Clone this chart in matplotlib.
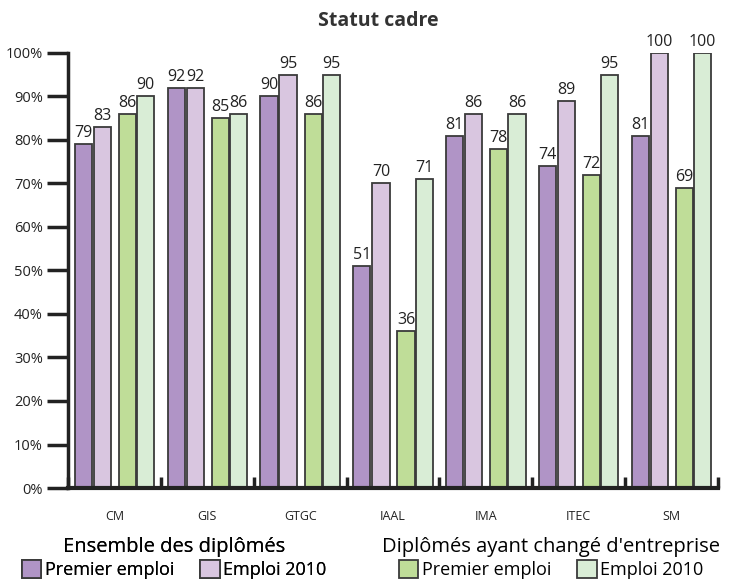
import numpy as np
import matplotlib.pyplot as plt
from matplotlib.patches import Patch

plt.rcParams['font.family'] = ['Open Sans', 'DejaVu Sans']

filieres = ['CM', 'GIS', 'GTGC', 'IAAL', 'IMA', 'ITEC', 'SM']
ensemblePremier = [79, 92, 90, 51, 81, 74, 81]
ensemble2010 = [83, 92, 95, 70, 86, 89, 100]
changePremier = [86, 85, 86, 36, 78, 72, 69]
change2010 = [90, 86, 95, 71, 86, 95, 100]

couleurs = ['#b094c6', '#d9c6e0', '#bfdd98', '#d9edd6']
bord = '#3a3a3a'

fig = plt.figure(figsize=(7.35, 5.86), dpi=100)
ax = fig.add_axes([68/735, 98/586, 650/735, 435/586])

x = np.arange(len(filieres))
largeur = 0.185
decalages = [-0.335, -0.13, 0.14, 0.335]
series = [ensemblePremier, ensemble2010, changePremier, change2010]

for serie, dx, coul in zip(series, decalages, couleurs):
    barres = ax.bar(x + dx, serie, largeur, color=coul, edgecolor=bord, linewidth=1.3, zorder=2)
    for b, v in zip(barres, serie):
        ax.text(b.get_x() + b.get_width()/2, v + 0.7, str(v), ha='center', va='bottom',
                fontsize=11.5, color='#222222', clip_on=False)

ax.set_xlim(-0.5, len(filieres) - 0.5)
ax.set_ylim(0, 100)
ax.set_yticks(np.arange(0, 101, 10))
ax.set_yticklabels([f'{v}%' for v in range(0, 101, 10)], fontsize=10.5, color='#222222')
ax.set_xticks(x)
ax.set_xticklabels(filieres, fontsize=9, color='#222222')
ax.set_xticks(np.arange(-0.5, len(filieres)), minor=True)

ax.tick_params(axis='y', length=15, width=2.5, color='#222222', pad=3)
ax.tick_params(axis='x', which='major', length=0, pad=16)
ax.tick_params(axis='x', which='minor', direction='in', length=8, width=2.5, color='#222222')

for s in ['top', 'right']:
    ax.spines[s].set_visible(False)
ax.spines['left'].set_linewidth(2.5)
ax.spines['bottom'].set_linewidth(3)
ax.spines['left'].set_color('#222222')
ax.spines['bottom'].set_color('#222222')

fig.text(378/735, 1 - 21/586, 'Statut cadre', ha='center', va='center',
         fontsize=14, fontweight='bold', color='#333333')

poignees1 = [Patch(facecolor=couleurs[0], edgecolor=bord, linewidth=1.3, label='Premier emploi'),
             Patch(facecolor=couleurs[1], edgecolor=bord, linewidth=1.3, label='Emploi 2010')]
poignees2 = [Patch(facecolor=couleurs[2], edgecolor=bord, linewidth=1.3, label='Premier emploi'),
             Patch(facecolor=couleurs[3], edgecolor=bord, linewidth=1.3, label='Emploi 2010')]

options = dict(ncol=2, frameon=False, loc='center', fontsize=13,
               title_fontproperties={'size': 14.5, 'weight': 'normal'},
               handlelength=1.1, handleheight=1.1, handletextpad=0.2,
               columnspacing=1.4, borderpad=0.1, labelspacing=0.2)
leg1 = fig.legend(handles=poignees1, title='Ensemble des diplômés',
                  bbox_to_anchor=(174/735, 1 - 558/586), **options)
leg2 = fig.legend(handles=poignees2, title="Diplômés ayant changé d'entreprise",
                  bbox_to_anchor=(551/735, 1 - 558/586), **options)
fig.add_artist(leg1)

fig.savefig('out.png', dpi=100)
